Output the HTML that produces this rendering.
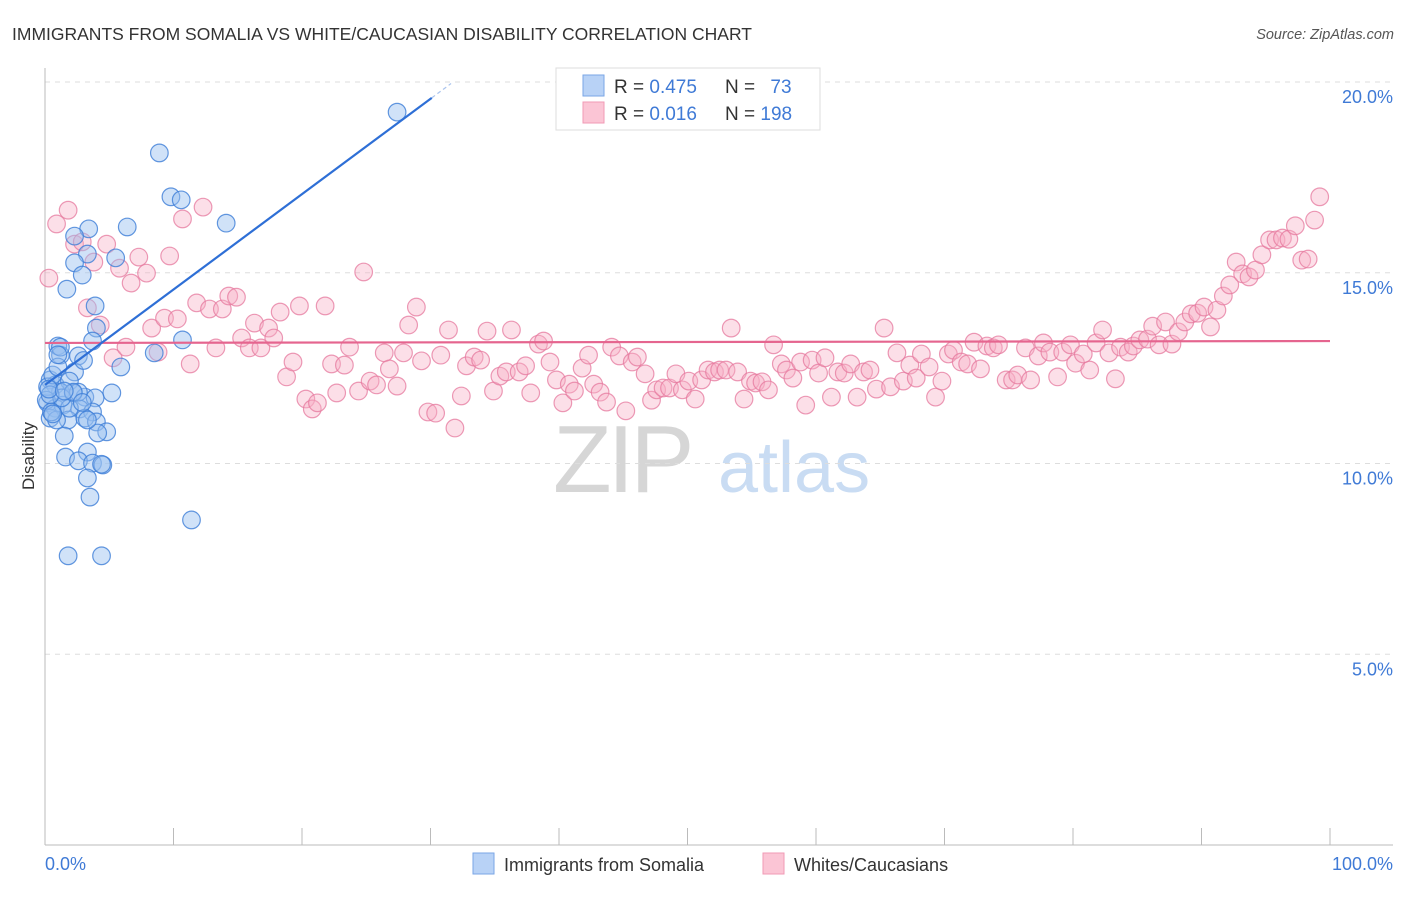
<!DOCTYPE html>
<html><head><meta charset="utf-8"><style>
body{margin:0;background:#fff;font-family:"Liberation Sans",sans-serif;}
svg text{font-family:"Liberation Sans",sans-serif;}
</style></head><body>
<svg id="chart" width="1406" height="892" viewBox="0 0 1406 892" xmlns="http://www.w3.org/2000/svg">
<text x="12" y="40" font-size="17.5" fill="#333">IMMIGRANTS FROM SOMALIA VS WHITE/CAUCASIAN DISABILITY CORRELATION CHART</text>
<text x="1394" y="39" font-size="14.5" fill="#555" font-style="italic" text-anchor="end">Source: ZipAtlas.com</text>
<g>
<text x="553" y="492" font-size="96" fill="#d6d6d6" font-family="Liberation Serif" letter-spacing="-4">ZIP</text>
<text x="718" y="492" font-size="72" fill="#c9dcf3">atlas</text>
</g>
<g id="grid"></g>
<g id="axes"></g>
<g id="lines"></g>
<g id="points"></g>
<g>
<rect x="556" y="68" width="264" height="62" fill="#fff" stroke="#ddd"/>
<rect x="583" y="75" width="21" height="21" fill="#b8d2f6" stroke="#7aa6e6"/>
<rect x="583" y="102" width="21" height="21" fill="#fbc5d5" stroke="#f09ab5"/>
<text x="614" y="93" font-size="19" fill="#333">R = <tspan fill="#3f7ad6">0.475</tspan></text>
<text x="725" y="93" font-size="19" fill="#333">N = <tspan fill="#3f7ad6" dx="10">73</tspan></text>
<text x="614" y="120" font-size="19" fill="#333">R = <tspan fill="#3f7ad6">0.016</tspan></text>
<text x="725" y="120" font-size="19" fill="#333">N = <tspan fill="#3f7ad6">198</tspan></text>
</g>
<text transform="translate(34,456) rotate(-90)" font-size="17" fill="#333" text-anchor="middle">Disability</text>
<text x="45" y="870" font-size="18" fill="#3f7ad6">0.0%</text>
<text x="1393" y="870" font-size="18" fill="#3f7ad6" text-anchor="end">100.0%</text>
<g>
<rect x="473" y="853" width="21" height="21" fill="#b8d2f6" stroke="#7aa6e6"/>
<text x="504" y="871" font-size="18" fill="#333">Immigrants from Somalia</text>
<rect x="763" y="853" width="21" height="21" fill="#fbc5d5" stroke="#f09ab5"/>
<text x="794" y="871" font-size="18" fill="#333">Whites/Caucasians</text>
</g>
</svg>
<script>
const yTicks=[5,10,15,20];
const yTickLabels=["5.0%","10.0%","15.0%","20.0%"];
const xTicks=[0,10,20,30,40,50,60,70,80,90,100];
const blueX=[27.4,8.9,9.8,10.6,14.1,6.4,3.4,2.3,3.3,5.5,2.3,2.9,1.7,3.9,4.0,3.7,10.7,8.5,1.0,1.2,2.6,5.9,2.3,0.4,0.8,1.9,5.2,1.2,2.2,3.1,3.9,0.2,0.8,1.4,2.7,3.7,0.4,1.8,3.1,4.0,1.5,4.8,4.1,1.6,3.3,2.6,3.7,4.5,3.3,3.5,11.4,1.8,4.4,0.2,0.6,1.0,0.1,0.9,1.9,1.3,2.6,3.3,0.4,0.5,1.2,2.2,4.4,0.3,1.0,2.9,0.6,1.5,3.0];
const blueY=[19.21,18.14,16.99,16.91,16.30,16.20,16.15,15.96,15.49,15.39,15.26,14.94,14.57,14.13,13.55,13.21,13.24,12.90,13.08,12.84,12.82,12.53,12.40,12.19,12.06,12.16,11.85,11.87,11.85,11.74,11.72,11.59,11.45,11.53,11.43,11.35,11.19,11.14,11.19,11.09,10.72,10.83,10.80,10.17,10.30,10.07,10.01,9.96,9.62,9.12,8.52,7.58,7.58,12.01,12.32,12.53,11.66,11.14,11.45,11.72,11.87,11.14,11.80,11.35,13.05,11.87,9.98,11.95,12.85,11.60,11.30,11.90,12.70];
const pinkX=[0.3,0.9,1.8,2.3,2.9,3.3,3.8,4.3,4.8,5.3,5.8,6.3,6.7,7.3,7.9,8.3,8.8,9.3,9.7,10.3,10.7,11.3,11.8,12.3,12.8,13.3,13.8,14.3,14.9,15.3,15.9,16.3,16.8,17.4,17.8,18.3,18.8,19.3,19.8,20.3,20.8,21.2,21.8,22.3,22.7,23.3,23.7,24.4,24.8,25.3,25.8,26.4,26.8,27.4,27.9,28.3,28.9,29.3,29.8,30.4,30.8,31.4,31.9,32.4,32.8,33.4,33.9,34.4,34.9,35.4,35.9,36.3,36.9,37.4,37.8,38.4,38.8,39.3,39.8,40.3,40.8,41.2,41.8,42.3,42.7,43.2,43.7,44.1,44.7,45.2,45.7,46.1,46.7,47.2,47.6,48.1,48.6,49.1,49.6,50.1,50.6,51.1,51.6,52.1,52.5,53.0,53.4,53.9,54.4,54.9,55.3,55.8,56.3,56.7,57.3,57.7,58.2,58.8,59.2,59.7,60.2,60.7,61.2,61.7,62.2,62.7,63.2,63.7,64.2,64.7,65.3,65.8,66.3,66.8,67.3,67.8,68.2,68.8,69.3,69.8,70.3,70.7,71.3,71.8,72.3,72.8,73.3,73.8,74.2,74.8,75.3,75.7,76.3,76.7,77.3,77.7,78.2,78.8,79.2,79.8,80.2,80.8,81.3,81.8,82.3,82.8,83.3,83.7,84.3,84.7,85.2,85.8,86.2,86.7,87.2,87.7,88.2,88.7,89.2,89.7,90.2,90.7,91.2,91.7,92.2,92.7,93.2,93.7,94.2,94.7,95.3,95.8,96.3,96.8,97.3,97.8,98.3,98.8,99.2];
const pinkY=[14.86,16.28,16.64,15.75,15.81,14.08,15.28,13.63,15.75,12.77,15.12,13.05,14.73,15.41,14.99,13.55,12.92,13.81,15.44,13.79,16.41,12.61,14.21,16.72,14.05,13.03,14.05,14.39,14.36,13.29,13.03,13.68,13.03,13.55,13.29,13.97,12.27,12.66,14.13,11.69,11.43,11.59,14.13,12.61,11.85,12.58,13.05,11.90,15.02,12.16,12.06,12.90,12.48,12.03,12.90,13.63,14.10,12.69,11.35,11.32,12.84,13.50,10.93,11.77,12.56,12.79,12.71,13.47,11.90,12.29,12.40,13.50,12.40,12.56,11.85,13.13,13.21,12.66,12.19,11.59,12.08,11.90,12.50,12.84,12.08,11.87,11.61,13.05,12.82,11.38,12.66,12.79,12.35,11.66,11.93,11.98,11.98,12.35,11.93,12.16,11.69,12.19,12.45,12.40,12.45,12.45,13.55,12.40,11.69,12.16,12.11,12.14,11.93,13.11,12.61,12.45,12.24,12.66,11.53,12.71,12.37,12.77,11.74,12.40,12.37,12.61,11.74,12.40,12.45,11.95,13.55,12.01,12.90,12.16,12.58,12.24,12.87,12.53,11.74,12.16,12.87,12.97,12.66,12.61,13.18,12.48,13.08,13.03,13.11,12.19,12.19,12.32,13.03,12.19,12.82,13.16,12.92,12.27,12.92,13.11,12.63,12.87,12.45,13.16,13.50,12.90,12.22,13.05,12.92,13.08,13.24,13.26,13.60,13.11,13.71,13.13,13.45,13.71,13.92,13.94,14.10,13.58,14.02,14.39,14.68,15.28,14.97,14.89,15.07,15.47,15.86,15.86,15.91,15.88,16.23,15.33,15.36,16.38,16.99];
const blueTrend=[12.06,0.25]; // intercept, slope per % x
const blueTrendEnd=[30.1,31.6]; // solid end, dashed end (x %)
const pinkTrend=[13.16,0.0005];

const NS="http://www.w3.org/2000/svg";
const L=45,R=1330,T=82,B=845;
const xs=v=>L+(R-L)*v/100;
const ys=v=>B-(B-T)*v/20;
function mk(tag,attrs,parent){const e=document.createElementNS(NS,tag);for(const k in attrs)e.setAttribute(k,attrs[k]);parent.appendChild(e);return e;}
const grid=document.getElementById('grid'),axes=document.getElementById('axes'),lines=document.getElementById('lines'),pts=document.getElementById('points');
yTicks.forEach((t,i)=>{
  const g=mk('line',{x1:L,x2:1393,y1:ys(t),y2:ys(t),stroke:'#ddd','stroke-dasharray':'5,5'},grid);
  
  
  const tx=mk('text',{x:1393,y:ys(t)+21,'font-size':18,fill:'#3f7ad6','text-anchor':'end'},grid);
  tx.textContent=yTickLabels[i];
  
  
});
const ya=mk('line',{x1:L,x2:L,y1:68,y2:B,stroke:'#bbb'},axes);


const xa=mk('line',{x1:L,x2:1393,y1:B,y2:B,stroke:'#bbb'},axes);


xTicks.forEach(t=>{
  const tk=mk('line',{x1:xs(t),x2:xs(t),y1:828,y2:B,stroke:'#bbb'},axes);
  
  
});
function dot(x,y,fill,stroke,name){
  const c=mk('circle',{cx:xs(x),cy:ys(y),r:8.8,fill:fill,stroke:stroke,'stroke-width':1.2},pts);
  
  
}
const nP=Math.min(pinkX.length,pinkY.length);
for(let i=0;i<nP;i++)dot(pinkX[i],pinkY[i],'rgba(248,175,198,0.4)','rgba(230,120,158,0.75)','whites-point');
const nB=Math.min(blueX.length,blueY.length);
for(let i=0;i<nB;i++)dot(blueX[i],blueY[i],'rgba(150,190,240,0.45)','rgba(60,125,215,0.8)','somalia-point');
const pl=mk('line',{x1:xs(0),x2:xs(100),y1:ys(pinkTrend[0]),y2:ys(pinkTrend[0]+pinkTrend[1]*100),stroke:'#e5658f','stroke-width':2.2},lines);


const bl=mk('line',{x1:xs(0),x2:xs(blueTrendEnd[0]),y1:ys(blueTrend[0]),y2:ys(blueTrend[0]+blueTrend[1]*blueTrendEnd[0]),stroke:'#2e6fd6','stroke-width':2.2},lines);


const bd=mk('line',{x1:xs(blueTrendEnd[0]),x2:xs(blueTrendEnd[1]),y1:ys(blueTrend[0]+blueTrend[1]*blueTrendEnd[0]),y2:ys(blueTrend[0]+blueTrend[1]*blueTrendEnd[1]),stroke:'#aac4ee','stroke-width':1.2,'stroke-dasharray':'4,3'},lines);


document.getElementById('chart').appendChild(lines);
</script>
</body></html>
